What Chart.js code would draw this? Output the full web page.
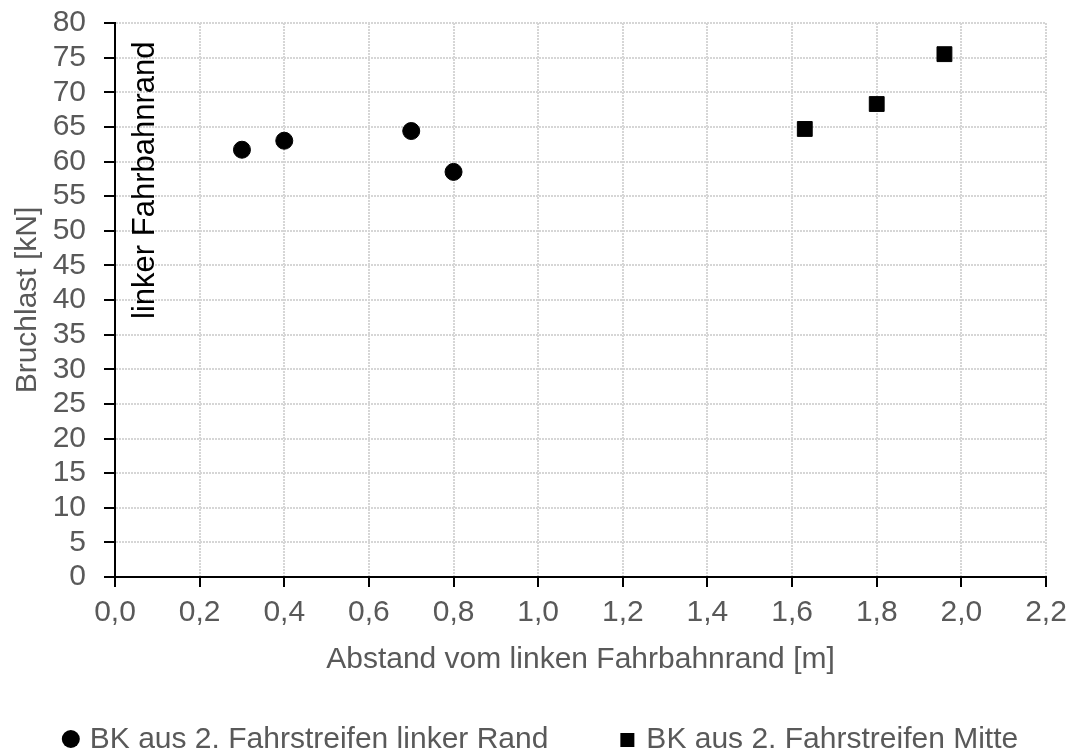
<!DOCTYPE html>
<html>
<head>
<meta charset="utf-8">
<script src="https://cdn.jsdelivr.net/npm/chart.js@4/dist/chart.umd.min.js"></script>
<style>
  html, body { margin: 0; padding: 0; background: #fff; }
  #wrap { width: 1075px; height: 753px; }
</style>
</head>
<body>
<div id="wrap"><canvas id="chart" width="1075" height="753"></canvas></div>
<script>
// Messwerte: Bruchlast über Abstand vom linken Fahrbahnrand
const randLabel = 'BK aus 2. Fahrstreifen linker Rand';
const randX = [0.3, 0.4, 0.7, 0.8];
const randY = [61.7, 63.0, 64.4, 58.5];

const mitteLabel = 'BK aus 2. Fahrstreifen Mitte';
const mitteX = [1.63, 1.8, 1.96];
const mitteY = [64.7, 68.3, 75.5];

// Achsen
const xMin = 0, xMax = 2.2, xStep = 0.2;
const yMin = 0, yMax = 80, yStep = 5;
const xTitle = 'Abstand vom linken Fahrbahnrand [m]';
const yTitle = 'Bruchlast [kN]';

// senkrechte Beschriftung im Diagramm
const noteText = 'linker Fahrbahnrand';
const noteX = 0.071;
const noteY = 57.3;

const FONT = '"Liberation Sans", Arial, sans-serif';
const GREY = '#595959';

function toPoints(xs, ys) {
    return xs.map((x, i) => ({ x: x, y: ys[i] }));
}

// Text am linken Fahrbahnrand (gedreht)
const notePlugin = {
    id: 'note',
    afterDatasetsDraw(chart) {
        const ctx = chart.ctx;
        const px = chart.scales.x.getPixelForValue(noteX);
        const py = chart.scales.y.getPixelForValue(noteY);
        ctx.save();
        ctx.translate(px, py);
        ctx.rotate(-Math.PI / 2);
        ctx.font = '31px ' + FONT;
        ctx.fillStyle = '#000';
        ctx.textAlign = 'center';
        ctx.textBaseline = 'middle';
        ctx.fillText(noteText, 0, 0);
        ctx.restore();
    }
};

// Legende unten, wie im Original mit grossem Abstand
const legendPlugin = {
    id: 'bottomLegend',
    afterDraw(chart) {
        const ctx = chart.ctx;
        ctx.save();
        ctx.font = '30px ' + FONT;
        ctx.textBaseline = 'middle';
        const y = 740;
        const markerW = 18, markerGap = 10, itemGap = 70;
        const items = chart.data.datasets.map(ds => ({
            text: ds.label,
            style: ds.pointStyle,
            w: ctx.measureText(ds.label).width
        }));
        let total = 0;
        items.forEach((it, i) => {
            total += markerW + markerGap + it.w + (i > 0 ? itemGap : 0);
        });
        let x = 540 - total / 2;
        items.forEach(it => {
            ctx.fillStyle = '#000';
            if (it.style === 'rect') {
                ctx.fillRect(x + 2, y - 7, 14, 14);
            } else {
                ctx.beginPath();
                ctx.arc(x + 9, y - 1, 9, 0, Math.PI * 2);
                ctx.fill();
            }
            ctx.fillStyle = GREY;
            ctx.fillText(it.text, x + markerW + markerGap, y);
            x += markerW + markerGap + it.w + itemGap;
        });
        ctx.restore();
    }
};

const ctx = document.getElementById('chart').getContext('2d');
const chart = new Chart(ctx, {
    type: 'scatter',
    data: {
        datasets: [{
            label: randLabel,
            data: toPoints(randX, randY),
            pointStyle: 'circle',
            pointRadius: 8.5,
            backgroundColor: '#000',
            borderColor: '#000',
            borderWidth: 1
        }, {
            label: mitteLabel,
            data: toPoints(mitteX, mitteY),
            pointStyle: 'rect',
            pointRadius: 10.5,
            backgroundColor: '#000',
            borderColor: '#000',
            borderWidth: 1
        }]
    },
    options: {
        responsive: false,
        animation: false,
        devicePixelRatio: 1,
        layout: { padding: { left: 0, right: 29, top: 23, bottom: 70 } },
        plugins: {
            legend: { display: false },
            tooltip: { enabled: false }
        },
        scales: {
            x: {
                type: 'linear',
                min: xMin,
                max: xMax,
                ticks: {
                    stepSize: xStep,
                    autoSkip: false,
                    color: GREY,
                    font: { family: FONT, size: 30 },
                    padding: 8,
                    maxRotation: 0,
                    callback: v => v.toFixed(1).replace('.', ',')
                },
                grid: {
                    color: '#d6d6d6',
                    lineWidth: 2,
                    tickColor: '#000',
                    tickWidth: 2,
                    tickLength: 10,
                    tickBorderDash: []
                },
                border: { color: '#000', width: 2, dash: [2, 1] },
                title: {
                    display: true,
                    text: xTitle,
                    color: GREY,
                    font: { family: FONT, size: 30 },
                    padding: { top: 0, bottom: 5 }
                },
                afterFit(scale) {
                    scale.height = 106;
                    scale.paddingLeft = 0;
                    scale.paddingRight = 0;
                }
            },
            y: {
                type: 'linear',
                min: yMin,
                max: yMax,
                ticks: {
                    stepSize: yStep,
                    autoSkip: false,
                    color: GREY,
                    font: { family: FONT, size: 30 },
                    padding: 18
                },
                grid: {
                    color: '#d6d6d6',
                    lineWidth: 2,
                    tickColor: '#000',
                    tickWidth: 2,
                    tickLength: 11,
                    tickBorderDash: []
                },
                border: { color: '#000', width: 2, dash: [2, 1] },
                title: {
                    display: true,
                    text: yTitle,
                    color: GREY,
                    font: { family: FONT, size: 30 },
                    padding: { top: 10, bottom: 0 }
                },
                afterFit(scale) {
                    scale.width = 115;
                    scale.paddingTop = 0;
                    scale.paddingBottom = 0;
                }
            }
        }
    },
    plugins: [notePlugin, legendPlugin]
});
</script>
</body>
</html>
